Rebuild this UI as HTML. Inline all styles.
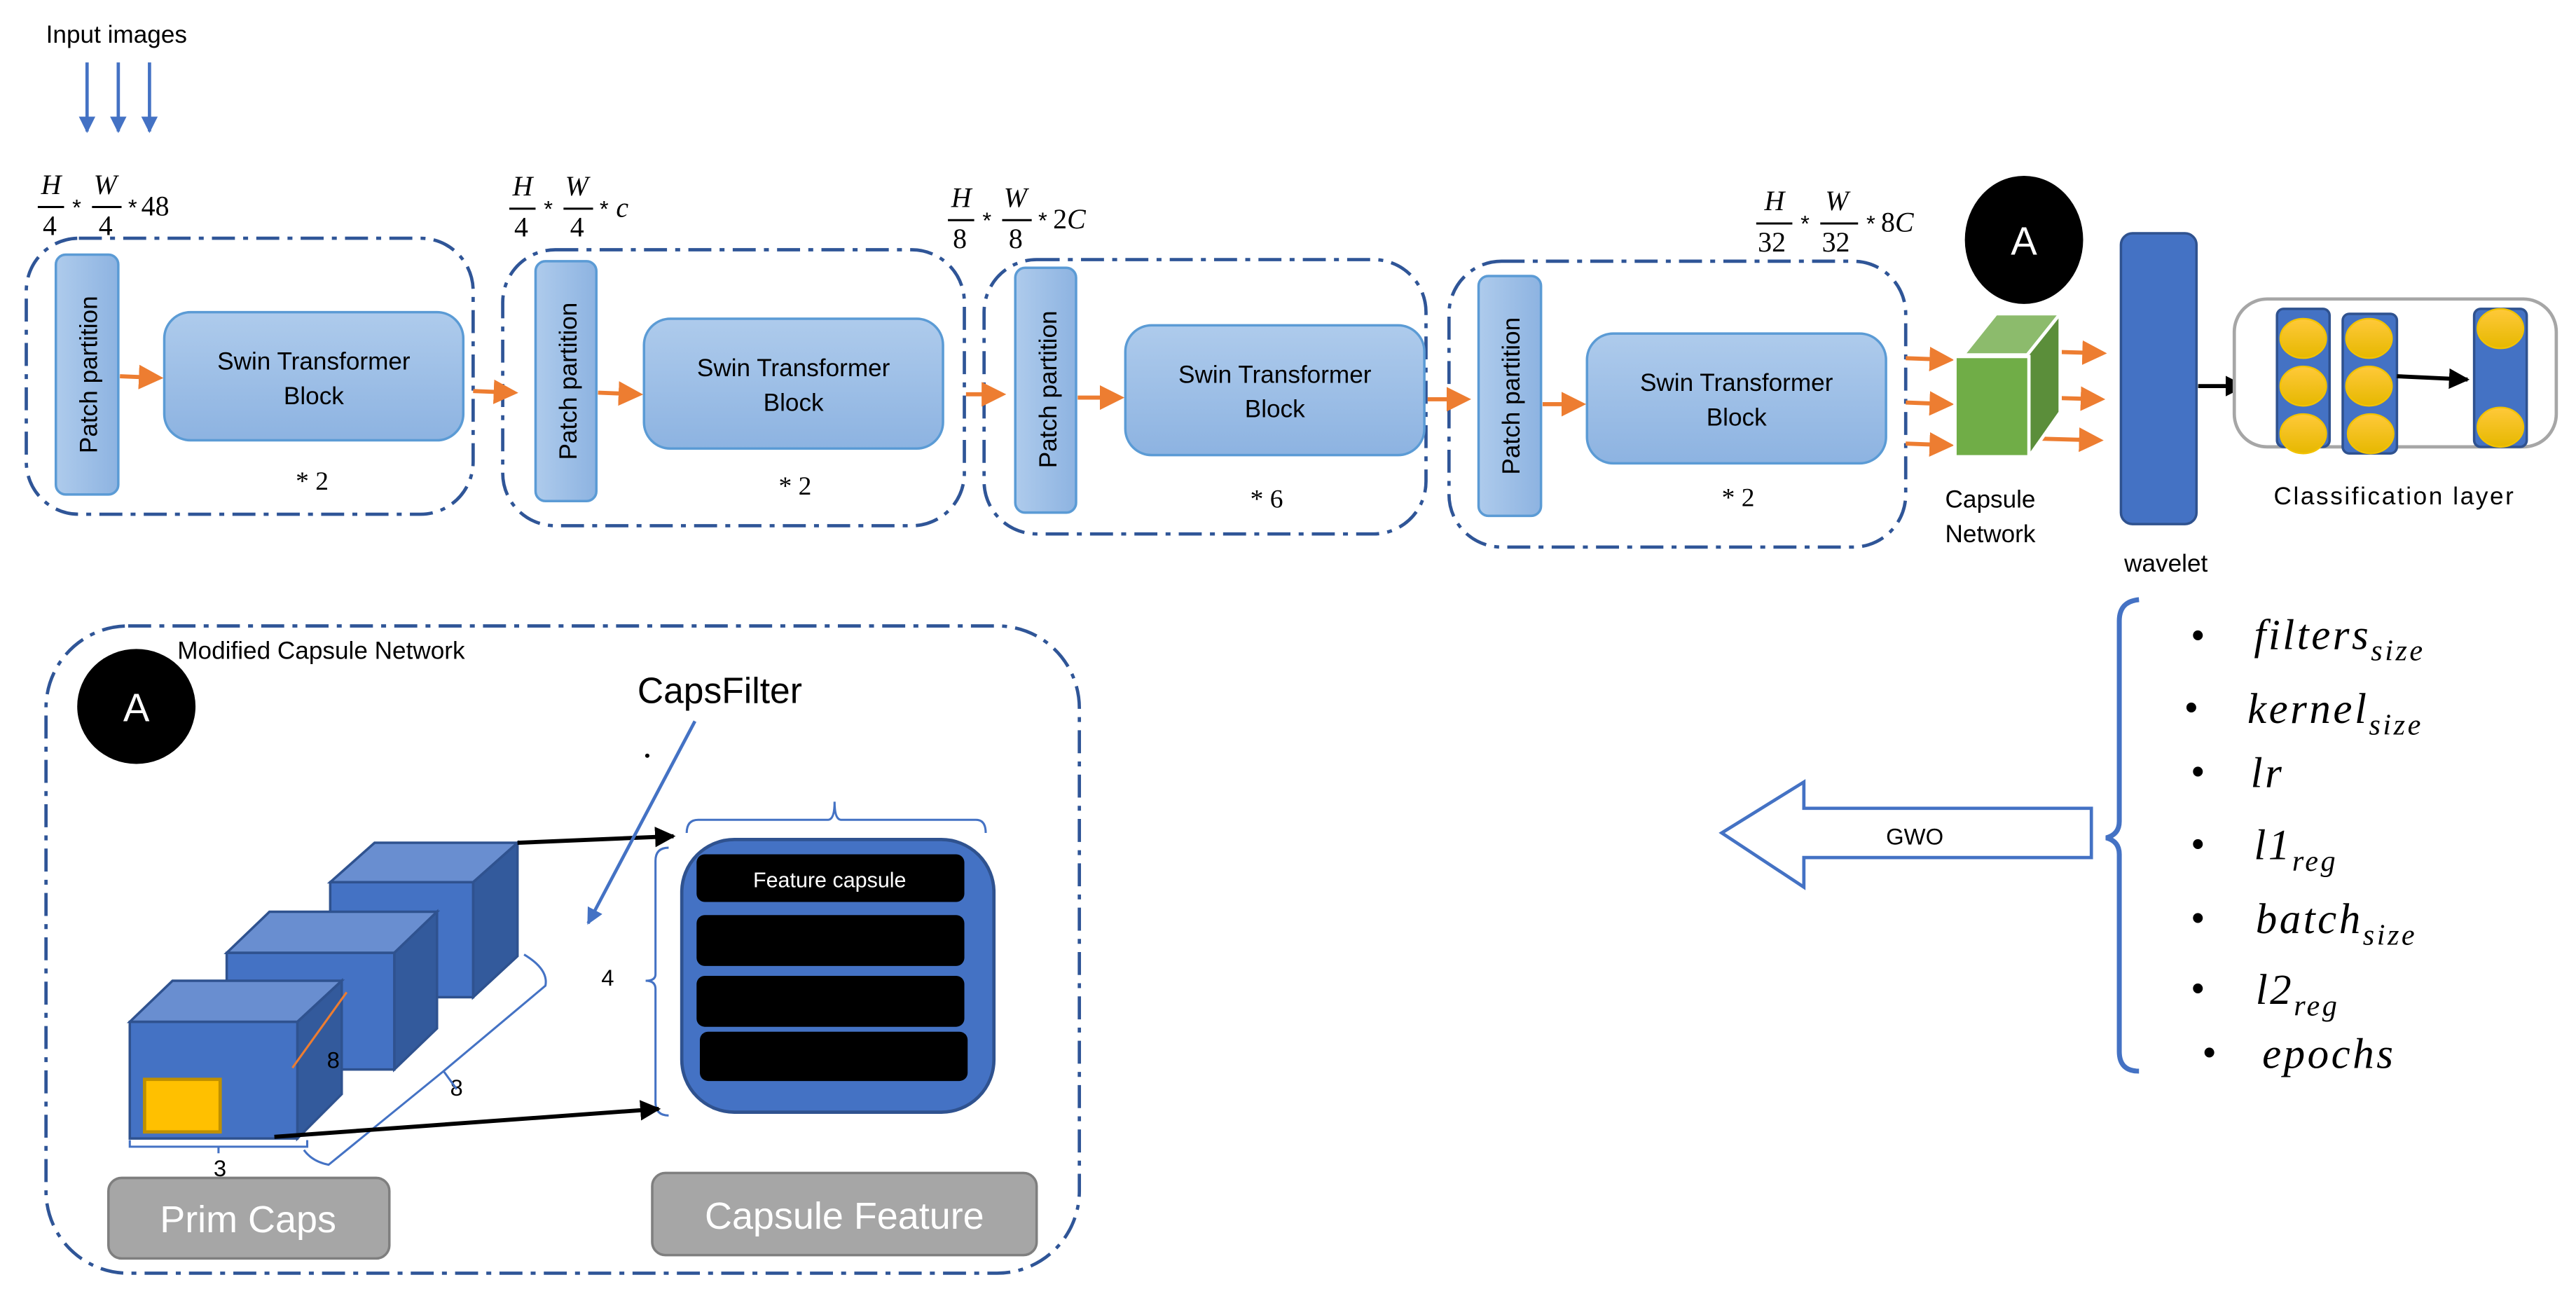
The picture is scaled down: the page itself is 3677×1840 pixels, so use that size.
<!DOCTYPE html>
<html><head><meta charset="utf-8"><style>html,body{margin:0;padding:0;background:#fff}svg{display:block}</style></head>
<body>
<svg width="3677" height="1840" viewBox="0 0 1568 784.6" xmlns="http://www.w3.org/2000/svg" font-family="Liberation Sans, sans-serif">
<defs>
<linearGradient id="g" x1="0" y1="0" x2="0" y2="1"><stop offset="0" stop-color="#aecbec"/><stop offset="1" stop-color="#8db3e1"/></linearGradient>
<linearGradient id="gh" x1="0" y1="0" x2="1" y2="0"><stop offset="0" stop-color="#aecbec"/><stop offset="1" stop-color="#8db3e1"/></linearGradient>
<linearGradient id="y" x1="0" y1="0" x2="0" y2="1"><stop offset="0" stop-color="#ffc93a"/><stop offset="1" stop-color="#e6b800"/></linearGradient>
<marker id="ob" markerWidth="6" markerHeight="6" refX="5" refY="3" orient="auto" markerUnits="strokeWidth"><path d="M0,0 L6,3 L0,6 Z" fill="#ed7d31"/></marker>
<marker id="bk" markerWidth="5" markerHeight="5" refX="4.5" refY="2.5" orient="auto" markerUnits="strokeWidth"><path d="M0,0 L5,2.5 L0,5 Z" fill="#000"/></marker>
<marker id="bl" markerWidth="5" markerHeight="5" refX="4.5" refY="2.5" orient="auto" markerUnits="strokeWidth"><path d="M0,0 L5,2.5 L0,5 Z" fill="#4472c4"/></marker>
<g id="fr4"><text x="2" y="-8" font-family="Liberation Serif" font-style="italic" font-size="17">H</text><line x1="0" y1="0" x2="16" y2="0" stroke="#000" stroke-width="1.3"/><text x="3" y="17" font-family="Liberation Serif" font-size="17">4</text><text x="21" y="5" font-size="14">*</text><text x="34" y="-8" font-family="Liberation Serif" font-style="italic" font-size="17">W</text><line x1="33" y1="0" x2="51" y2="0" stroke="#000" stroke-width="1.3"/><text x="37" y="17" font-family="Liberation Serif" font-size="17">4</text><text x="55" y="5" font-size="14">*</text></g>
</defs>

<text x="28" y="26" font-size="15">Input images</text>
<g stroke="#4472c4" stroke-width="2" marker-end="url(#bl)"><line x1="53" y1="38" x2="53" y2="80"/><line x1="72" y1="38" x2="72" y2="80"/><line x1="91" y1="38" x2="91" y2="80"/></g>

<g transform="translate(23,126)"><use href="#fr4"/><text x="63" y="5" font-family="Liberation Serif" font-size="17">48</text></g>
<g transform="translate(310,127)"><use href="#fr4"/><text x="65" y="5" font-family="Liberation Serif" font-style="italic" font-size="17">c</text></g>
<g transform="translate(577,134)" font-family="Liberation Serif"><text x="2" y="-8" font-style="italic" font-size="17">H</text><line x1="0" y1="0" x2="16" y2="0" stroke="#000" stroke-width="1.3"/><text x="3" y="17" font-size="17">8</text><text x="21" y="5" font-size="14" font-family="Liberation Sans">*</text><text x="34" y="-8" font-style="italic" font-size="17">W</text><line x1="33" y1="0" x2="51" y2="0" stroke="#000" stroke-width="1.3"/><text x="37" y="17" font-size="17">8</text><text x="55" y="5" font-size="14" font-family="Liberation Sans">*</text><text x="64" y="5" font-size="17">2<tspan font-style="italic">C</tspan></text></g>
<g transform="translate(1069,136)" font-family="Liberation Serif"><text x="5" y="-8" font-style="italic" font-size="17">H</text><line x1="0" y1="0" x2="22" y2="0" stroke="#000" stroke-width="1.3"/><text x="1" y="17" font-size="17">32</text><text x="27" y="5" font-size="14" font-family="Liberation Sans">*</text><text x="42" y="-8" font-style="italic" font-size="17">W</text><line x1="39" y1="0" x2="62" y2="0" stroke="#000" stroke-width="1.3"/><text x="40" y="17" font-size="17">32</text><text x="67" y="5" font-size="14" font-family="Liberation Sans">*</text><text x="76" y="5" font-size="17">8<tspan font-style="italic">C</tspan></text></g>

<g fill="none" stroke="#2f5597" stroke-width="2" stroke-dasharray="14,5,3,5">
<rect x="16" y="145" width="272" height="168" rx="32"/>
<rect x="306" y="152" width="281" height="168" rx="32"/>
<rect x="599" y="158" width="269" height="167" rx="32"/>
<rect x="882" y="159" width="278" height="174" rx="32"/>
</g>
<g stroke="#5b9bd5" stroke-width="1.5">
<rect x="34" y="155" width="38" height="146" rx="6" fill="url(#gh)"/>
<rect x="100" y="190" width="182" height="78" rx="16" fill="url(#g)"/>
<rect x="326" y="159" width="37" height="146" rx="6" fill="url(#gh)"/>
<rect x="392" y="194" width="182" height="79" rx="16" fill="url(#g)"/>
<rect x="618" y="163" width="37" height="149" rx="6" fill="url(#gh)"/>
<rect x="685" y="198" width="182" height="79" rx="16" fill="url(#g)"/>
<rect x="900" y="168" width="38" height="146" rx="6" fill="url(#gh)"/>
<rect x="966" y="203" width="182" height="79" rx="16" fill="url(#g)"/>
</g>
<g font-size="15" text-anchor="middle">
<text transform="translate(59,228) rotate(-90)">Patch partition</text>
<text transform="translate(351,232) rotate(-90)">Patch partition</text>
<text transform="translate(643,237) rotate(-90)">Patch partition</text>
<text transform="translate(925,241) rotate(-90)">Patch partition</text>
<text x="191" y="225">Swin Transformer</text><text x="191" y="246">Block</text>
<text x="483" y="229">Swin Transformer</text><text x="483" y="250">Block</text>
<text x="776" y="233">Swin Transformer</text><text x="776" y="254">Block</text>
<text x="1057" y="238">Swin Transformer</text><text x="1057" y="259">Block</text>
</g>
<g font-family="Liberation Serif" font-size="16"><text x="180" y="298">* 2</text><text x="474" y="301">* 2</text><text x="761" y="309">* 6</text><text x="1048" y="308">* 2</text></g>

<g stroke="#ed7d31" stroke-width="2.5" marker-end="url(#ob)">
<line x1="73" y1="229" x2="97" y2="230"/><line x1="288" y1="238" x2="313" y2="239"/>
<line x1="364" y1="239" x2="389" y2="240"/><line x1="588" y1="240" x2="610" y2="240"/>
<line x1="656" y1="242" x2="682" y2="242"/><line x1="869" y1="243" x2="893" y2="243"/>
<line x1="939" y1="246" x2="963" y2="246"/>
<line x1="1160" y1="218" x2="1187" y2="219"/><line x1="1160" y1="245" x2="1187" y2="246"/><line x1="1160" y1="270" x2="1187" y2="271"/>
<line x1="1244" y1="214" x2="1280" y2="215"/><line x1="1243" y1="242" x2="1279" y2="243"/><line x1="1242" y1="267" x2="1278" y2="268"/>
</g>

<ellipse cx="1232" cy="146" rx="36" ry="39" fill="#000"/>
<text x="1232" y="155" font-size="24" fill="#fff" text-anchor="middle">A</text>

<polygon points="1195,216 1215,191 1254,191 1234,216" fill="#8cbb6c" stroke="#fff" stroke-width="2"/>
<polygon points="1234,216 1254,191 1254,251 1235,278" fill="#5b8e3a" stroke="#fff" stroke-width="2"/>
<rect x="1190" y="217" width="45" height="61" fill="#70ad47" stroke="#fff" stroke-width="2"/>
<text x="1184" y="309" font-size="15">Capsule</text><text x="1184" y="330" font-size="15">Network</text>

<rect x="1291" y="142" width="46" height="177" rx="7" fill="#4472c4" stroke="#2f528f" stroke-width="1.5"/>
<text x="1293" y="348" font-size="15">wavelet</text>
<line x1="1338" y1="235" x2="1366" y2="235" stroke="#000" stroke-width="2.5" marker-end="url(#bk)"/>

<rect x="1360" y="182" width="196" height="90" rx="20" fill="#fff" stroke="#a6a6a6" stroke-width="2"/>
<g fill="#4472c4" stroke="#2f528f" stroke-width="1.5">
<rect x="1386" y="188" width="32" height="84" rx="4"/><rect x="1426" y="191" width="33" height="85" rx="4"/><rect x="1506" y="188" width="32" height="84" rx="4"/>
</g>
<g fill="url(#y)" stroke="#f2c200" stroke-width="1">
<ellipse cx="1402" cy="206" rx="14" ry="12"/><ellipse cx="1402" cy="235" rx="14" ry="12"/><ellipse cx="1402" cy="264" rx="14" ry="12"/>
<ellipse cx="1442" cy="206" rx="14" ry="12"/><ellipse cx="1442" cy="235" rx="14" ry="12"/><ellipse cx="1443" cy="264" rx="14" ry="12"/>
<ellipse cx="1522" cy="200" rx="14" ry="12"/><ellipse cx="1522" cy="260" rx="14" ry="12"/>
</g>
<line x1="1459" y1="229" x2="1502" y2="231" stroke="#000" stroke-width="2.5" marker-end="url(#bk)"/>
<text x="1384" y="307" font-size="15" textLength="146">Classification layer</text>

<path d="M1302,365 Q1290,366 1290,378 L1290,500 Q1290,508 1282,510 Q1290,512 1290,520 L1290,640 Q1290,652 1302,652" fill="none" stroke="#4472c4" stroke-width="3"/>
<g font-size="22"><text x="1334" y="394">•</text><text x="1330" y="438">•</text><text x="1334" y="477">•</text><text x="1334" y="521">•</text><text x="1334" y="566">•</text><text x="1334" y="609">•</text><text x="1341" y="648">•</text></g>
<g font-family="Liberation Serif" font-style="italic" font-size="26" letter-spacing="1.5">
<text x="1372" y="395">filters<tspan font-size="18" dy="7">size</tspan></text>
<text x="1368" y="440">kernel<tspan font-size="18" dy="7">size</tspan></text>
<text x="1370" y="479">lr</text>
<text x="1372" y="523">l1<tspan font-size="18" dy="7">reg</tspan></text>
<text x="1373" y="568">batch<tspan font-size="18" dy="7">size</tspan></text>
<text x="1373" y="611">l2<tspan font-size="18" dy="7">reg</tspan></text>
<text x="1377" y="650">epochs</text>
</g>
<polygon points="1273,492 1098,492 1098,476 1048,507 1098,540 1098,522 1273,522" fill="#fff" stroke="#4472c4" stroke-width="2"/>
<text x="1148" y="514" font-size="14">GWO</text>

<rect x="28" y="381" width="629" height="394" rx="50" fill="none" stroke="#2f5597" stroke-width="2" stroke-dasharray="14,5,3,5"/>
<text x="108" y="401" font-size="15">Modified Capsule Network</text>
<ellipse cx="83" cy="430" rx="36" ry="35" fill="#000"/>
<text x="83" y="439" font-size="24" fill="#fff" text-anchor="middle">A</text>
<text x="388" y="428" font-size="22">CapsFilter</text>
<circle cx="394" cy="460" r="1.3" fill="#000"/>

<g stroke="#2f528f" stroke-width="1.5">
<polygon points="201,537 228,513 315,513 288,537" fill="#698ed0"/>
<polygon points="288,537 315,513 315,582 288,607" fill="#335a9c"/>
<rect x="201" y="537" width="87" height="70" fill="#4472c4"/>
<polygon points="138,580 164,555 266,555 240,580" fill="#698ed0"/>
<polygon points="240,580 266,555 266,626 240,651" fill="#335a9c"/>
<rect x="138" y="580" width="102" height="71" fill="#4472c4"/>
<polygon points="79,622 105,597 208,597 181,622" fill="#698ed0"/>
<polygon points="181,622 208,597 208,666 181,693" fill="#335a9c"/>
<rect x="79" y="622" width="102" height="71" fill="#4472c4"/>
</g>
<rect x="88" y="657" width="46" height="32" fill="#ffc000" stroke="#bf9000" stroke-width="2"/>
<line x1="178" y1="650" x2="211" y2="604" stroke="#ed7d31" stroke-width="1.3"/>
<g font-size="14"><text x="199" y="650">8</text><text x="274" y="667">8</text><text x="130" y="716">3</text><text x="366" y="600">4</text></g>
<g fill="none" stroke="#4472c4" stroke-width="1.3">
<path d="M79,694 L79,698 L187,698 L187,694 M133,698 L133,702"/>
<path d="M319,581 Q334,590 332,600 L270,652 L278,663 M270,652 L200,709 Q190,707 185,700"/>
<path d="M418,507 Q418,499 425,499 L504,499 Q508,499 508,488 Q508,499 512,499 L594,499 Q600,499 600,507"/>
<path d="M407,516 Q399,516 399,524 L399,593 Q399,597 393,597 Q399,597 399,602 L399,671 Q399,679 407,679"/>
</g>
<line x1="315" y1="513" x2="410" y2="509" stroke="#000" stroke-width="2.5" marker-end="url(#bk)"/>
<line x1="167" y1="692" x2="401" y2="675" stroke="#000" stroke-width="2.5" marker-end="url(#bk)"/>
<line x1="423" y1="439" x2="358" y2="562" stroke="#4472c4" stroke-width="2" marker-end="url(#bl)"/>

<rect x="415" y="511" width="190" height="166" rx="32" fill="#4472c4" stroke="#2f528f" stroke-width="2"/>
<g fill="#000"><rect x="424" y="520" width="163" height="29" rx="5"/><rect x="424" y="557" width="163" height="31" rx="5"/><rect x="424" y="594" width="163" height="31" rx="5"/><rect x="426" y="628" width="163" height="30" rx="5"/></g>
<text x="505" y="540" font-size="13" fill="#fff" text-anchor="middle">Feature capsule</text>

<rect x="66" y="717" width="171" height="49" rx="8" fill="#a6a6a6" stroke="#7f7f7f" stroke-width="1.5"/>
<text x="151" y="750" font-size="23" fill="#fff" text-anchor="middle">Prim Caps</text>
<rect x="397" y="714" width="234" height="50" rx="8" fill="#a6a6a6" stroke="#7f7f7f" stroke-width="1.5"/>
<text x="514" y="748" font-size="23" fill="#fff" text-anchor="middle">Capsule Feature</text>
</svg>
</body></html>
